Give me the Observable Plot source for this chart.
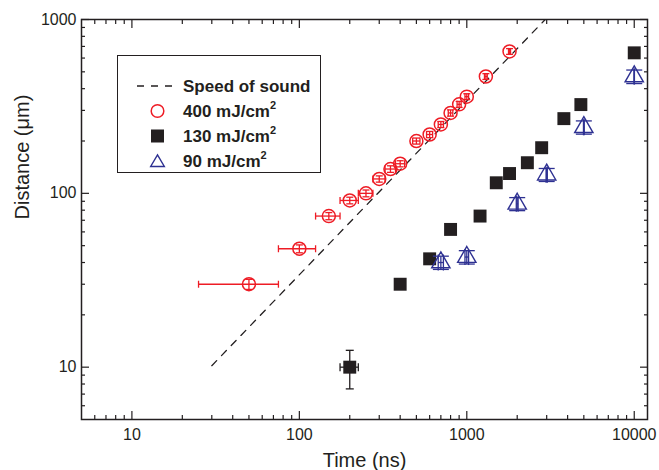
<!DOCTYPE html>
<html>
<head>
<meta charset="utf-8">
<script src="https://cdn.jsdelivr.net/npm/d3@7"></script>
<script src="https://cdn.jsdelivr.net/npm/@observablehq/plot@0.6"></script>
<style>
  html, body { margin: 0; padding: 0; background: #fff; }
  #wrap { position: relative; width: 659px; height: 470px; font-family: "Liberation Sans", Arial, sans-serif; }
  #legend { position: absolute; left: 117px; top: 55px; width: 204px; height: 118px; border: 1.5px solid #231f20; box-sizing: border-box; background: #fff; }
</style>
</head>
<body>
<div id="wrap"></div>
<script>
// ---- data ----
const soundT = [30, 2940];
const soundD = [10.2, 1000];

const red400T = [50, 100, 150, 200, 250, 300, 350, 400, 500, 600, 700, 800, 900, 1000, 1300, 1800];
const red400D = [30, 48, 74, 91, 100, 121, 138, 148, 200, 218, 249, 290, 325, 360, 470, 655];
const red400TErr = [25, 25, 25, 25, 25, 25, 25, 25, 25, 25, 25, 25, 25, 25, 25, 25];
const red400DErr = [2, 2.5, 3.5, 4, 4.5, 5, 6, 6, 8, 9, 10, 12, 13, 14, 18, 25];

const black130T = [200, 400, 600, 800, 1200, 1500, 1800, 2300, 2800, 3800, 4800, 10000];
const black130D = [10, 30, 42, 62, 74, 115, 130, 150, 183, 269, 324, 643];
const black130TErr = [25, 25, 25, 25, 25, 25, 25, 25, 25, 25, 25, 25];
const black130DErr = [2.5, 1.5, 2, 3, 3, 5, 5, 6, 7, 10, 12, 25];

const blue90T = [700, 1000, 2000, 3000, 5000, 10000];
const blue90D = [40, 43, 87, 128, 240, 470];
const blue90TErr = [25, 25, 25, 25, 25, 25];
const blue90DErr = [3.5, 3.8, 7.5, 11, 21, 42];

const xMajor = [10, 100, 1000, 10000];
const xMinor = [6, 7, 8, 9, 20, 30, 40, 50, 60, 70, 80, 90, 200, 300, 400, 500, 600, 700, 800, 900,
                2000, 3000, 4000, 5000, 6000, 7000, 8000, 9000];
const yMajor = [10, 100, 1000];
const yMinor = [6, 7, 8, 9, 20, 30, 40, 50, 60, 70, 80, 90, 200, 300, 400, 500, 600, 700, 800, 900];

const legendLabels = ["Speed of sound", "400 mJ/cm", "130 mJ/cm", "90 mJ/cm"];

// ---- colours ----
const RED = "#ee1c25", BLUE = "#2e3192", BLACK = "#231f20";

const toRows = (T, D, TE, DE) => T.map((t, i) => ({t, d: D[i], te: TE[i], de: DE[i]}));
const red = toRows(red400T, red400D, red400TErr, red400DErr);
const black = toRows(black130T, black130D, black130TErr, black130DErr);
const blue = toRows(blue90T, blue90D, blue90TErr, blue90DErr);
const sound = soundT.map((t, i) => ({t, d: soundD[i]}));

// cap symbols
const capV = {draw(ctx, size) { const r = Math.sqrt(size / Math.PI); ctx.moveTo(0, -r); ctx.lineTo(0, r); }};
const capH = {draw(ctx, size) { const r = Math.sqrt(size / Math.PI); ctx.moveTo(-r, 0); ctx.lineTo(r, 0); }};

function errorBars(rows, color, capR, sw) {
  return [
    Plot.link(rows, {x1: r => r.t - r.te, x2: r => r.t + r.te, y1: "d", y2: "d", stroke: color, strokeWidth: sw}),
    Plot.link(rows, {x1: "t", x2: "t", y1: r => r.d - r.de, y2: r => r.d + r.de, stroke: color, strokeWidth: sw}),
    Plot.dot(rows, {x: r => r.t - r.te, y: "d", symbol: capV, r: capR, stroke: color, strokeWidth: sw}),
    Plot.dot(rows, {x: r => r.t + r.te, y: "d", symbol: capV, r: capR, stroke: color, strokeWidth: sw}),
    Plot.dot(rows, {x: "t", y: r => r.d - r.de, symbol: capH, r: capR, stroke: color, strokeWidth: sw}),
    Plot.dot(rows, {x: "t", y: r => r.d + r.de, symbol: capH, r: capR, stroke: color, strokeWidth: sw})
  ];
}

const chart = Plot.plot({
  width: 659,
  height: 470,
  marginLeft: 81,
  marginRight: 12,
  marginTop: 19,
  marginBottom: 51,
  style: {fontFamily: "'Liberation Sans', Arial, sans-serif", fontSize: "16px", color: BLACK, background: "#fff"},
  x: {type: "log", domain: [5, 12000]},
  y: {type: "log", domain: [5, 1000]},
  marks: [
    // tick labels
    Plot.axisX(xMajor, {anchor: "bottom", tickSize: 0, tickPadding: 9, tickFormat: d => String(d), label: null, fontSize: 16}),
    Plot.axisY(yMajor, {anchor: "left", tickSize: 0, tickPadding: 5, tickFormat: d => String(d), label: null, fontSize: 16}),
    // inward ticks, all four sides
    Plot.axisX(xMajor, {anchor: "bottom", tickSize: -8, tickFormat: () => "", label: null, strokeWidth: 1.2}),
    Plot.axisX(xMinor, {anchor: "bottom", tickSize: -4, tickFormat: () => "", label: null, strokeWidth: 1.2}),
    Plot.axisX(xMajor, {anchor: "top", tickSize: -8, tickFormat: () => "", label: null, strokeWidth: 1.2}),
    Plot.axisX(xMinor, {anchor: "top", tickSize: -4, tickFormat: () => "", label: null, strokeWidth: 1.2}),
    Plot.axisY(yMajor, {anchor: "left", tickSize: -8, tickFormat: () => "", label: null, strokeWidth: 1.2}),
    Plot.axisY(yMinor, {anchor: "left", tickSize: -4, tickFormat: () => "", label: null, strokeWidth: 1.2}),
    Plot.axisY(yMajor, {anchor: "right", tickSize: -8, tickFormat: () => "", label: null, strokeWidth: 1.2}),
    Plot.axisY(yMinor, {anchor: "right", tickSize: -4, tickFormat: () => "", label: null, strokeWidth: 1.2}),
    // axis titles
    Plot.text(["Time (ns)"], {frameAnchor: "bottom", text: d => d, dy: 47, lineAnchor: "bottom", fontSize: 20, fill: BLACK}),
    Plot.text(["Distance (μm)"], {frameAnchor: "left", text: d => d, dx: -59, rotate: -90, fontSize: 20, fill: BLACK}),
    // speed of sound
    Plot.line(sound, {x: "t", y: "d", stroke: BLACK, strokeWidth: 1.3, strokeDasharray: "7,7", clip: true}),
    // 400 mJ/cm2
    ...errorBars(red, RED, 3.5, 1.3),
    Plot.dot(red, {x: "t", y: "d", r: 6.5, stroke: RED, strokeWidth: 1.5, fill: "none"}),
    // 130 mJ/cm2
    ...errorBars(black, BLACK, 4, 1.3),
    Plot.dot(black, {x: "t", y: "d", symbol: "square", r: 7.3, fill: BLACK, stroke: "none"}),
    // 90 mJ/cm2
    ...errorBars(blue, BLUE, 8, 1.3),
    Plot.dot(blue, {x: "t", y: "d", symbol: "triangle", r: 6.8, stroke: BLUE, strokeWidth: 1.4, fill: "none"}),
    Plot.frame({stroke: BLACK, strokeWidth: 1.5})
  ]
});

const wrap = document.getElementById("wrap");
wrap.appendChild(chart);

// legend (inside plot area)
const ns = "http://www.w3.org/2000/svg";
const lg = document.createElement("div");
lg.id = "legend";
const svg = document.createElementNS(ns, "svg");
svg.setAttribute("width", 204);
svg.setAttribute("height", 118);
svg.style.position = "absolute";
svg.style.left = "-1.5px";
svg.style.top = "-1.5px";
svg.style.overflow = "visible";
const rowsY = [31, 56, 81, 106];
const mk = (tag, attrs) => { const e = document.createElementNS(ns, tag); for (const k in attrs) e.setAttribute(k, attrs[k]); svg.appendChild(e); return e; };
mk("line", {x1: 20, x2: 55, y1: rowsY[0], y2: rowsY[0], stroke: BLACK, "stroke-width": 1.3, "stroke-dasharray": "7,7"});
mk("circle", {cx: 40.5, cy: rowsY[1], r: 6.3, fill: "none", stroke: RED, "stroke-width": 1.5});
mk("rect", {x: 34, y: rowsY[2] - 6.5, width: 13, height: 13, fill: BLACK});
{
  const s = 7.2, cx = 40.5, cy = rowsY[3] + 1;
  mk("path", {d: `M${cx},${cy - s}L${cx + s * 0.95},${cy + s * 0.62}L${cx - s * 0.95},${cy + s * 0.62}Z`, fill: "none", stroke: BLUE, "stroke-width": 1.4});
}
legendLabels.forEach((lab, i) => {
  const t = mk("text", {x: 66, y: rowsY[i] + 6, "font-family": "'Liberation Sans', Arial, sans-serif", "font-weight": "bold", "font-size": 17, fill: BLACK});
  t.textContent = lab;
  if (i > 0) {
    const sup = document.createElementNS(ns, "tspan");
    sup.setAttribute("dy", -8);
    sup.setAttribute("font-size", 11);
    sup.textContent = "2";
    t.appendChild(sup);
  }
});
lg.appendChild(svg);
wrap.appendChild(lg);
</script>
</body>
</html>
